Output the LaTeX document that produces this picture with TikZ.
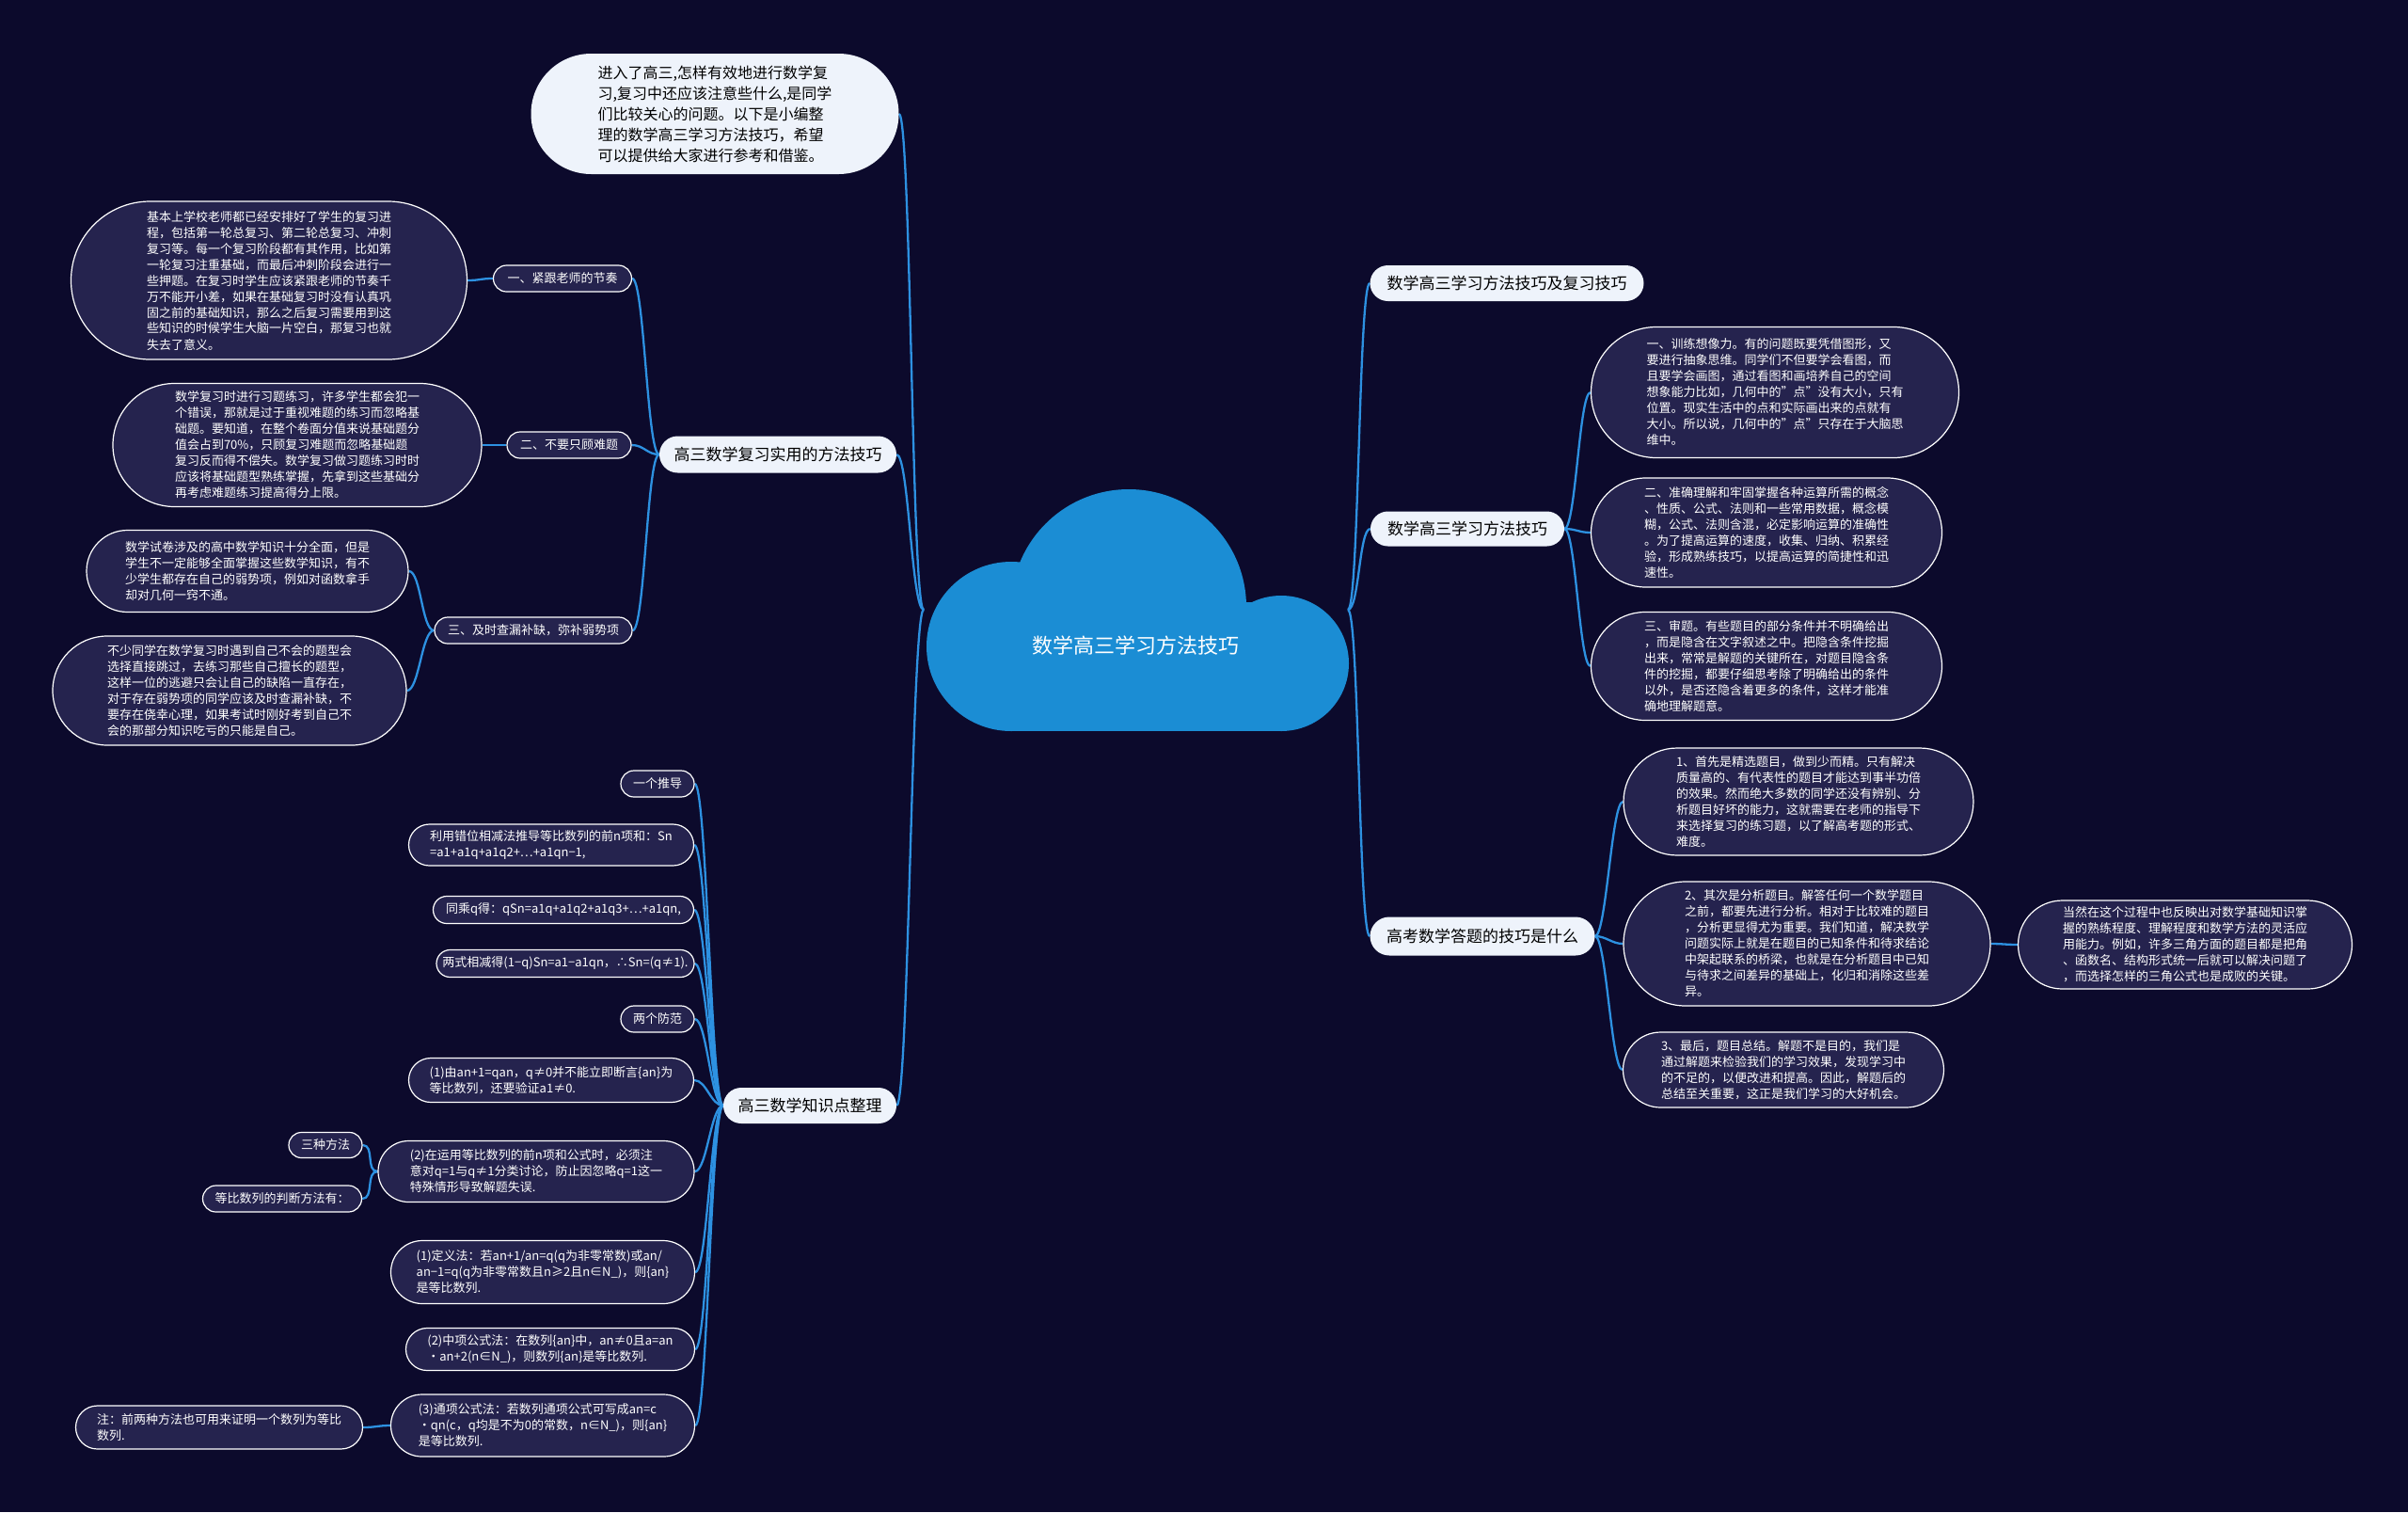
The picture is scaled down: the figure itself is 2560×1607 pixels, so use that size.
\documentclass[tikz,border=0pt]{standalone}
\usepackage{fontspec}
\setmainfont{Noto Sans CJK SC}
\usetikzlibrary{shapes.misc}
\definecolor{bgc}{RGB}{12,10,44}
\definecolor{detc}{RGB}{37,35,78}
\definecolor{topc}{RGB}{238,243,251}
\definecolor{linec}{RGB}{45,145,225}
\definecolor{cloudc}{RGB}{27,141,212}
\newcommand\fdet{\fontsize{13}{17}\selectfont}
\newcommand\ftop{\fontsize{17}{22}\selectfont}
\newcommand\fintro{\fontsize{16}{22}\selectfont}
\newcommand\fcloud{\fontsize{22}{26}\selectfont}
\pgfdeclarelayer{bg}
\pgfsetlayers{bg,main}
\tikzset{
  topnode/.style={rounded rectangle, fill=topc, text=black, font=\ftop, inner xsep=2pt, inner ysep=2pt, align=center},
  subnode/.style={rounded rectangle, fill=detc, draw=white, line width=1.2pt, text=white, font=\fdet, inner xsep=2pt, inner ysep=2pt, align=left},
  conn/.style={draw=linec, line width=2.3pt},
  lcon/.style={out=180, in=0, distance=13pt},
  rcon/.style={out=0, in=180, distance=12pt},
}
\begin{document}
\begin{tikzpicture}[x=1pt, y=-1pt]
\begin{pgfonlayer}{bg}
\fill[bgc] (0,0) rectangle (2560,1607);
\end{pgfonlayer}
\useasboundingbox (0,0) rectangle (2560,1607);

% cloud
\fill[cloudc] (1200,645) circle (125);
\fill[cloudc] (1075,687) circle (90);
\fill[cloudc] (1362,705) circle (72);
\fill[cloudc] (1075,640) rectangle (1362,777);
\node[text=white, font=\fcloud] (cloud) at (1207,686) {数学高三学习方法技巧};
\coordinate (cl) at (982,648);
\coordinate (cr) at (1433,648);

% left top
\node[topnode, font=\fintro, align=left, minimum width=395pt, minimum height=128pt] (intro) at (760,121) {进入了高三,怎样有效地进行数学复\\习,复习中还应该注意些什么,是同学\\们比较关心的问题。以下是小编整\\理的数学高三学习方法技巧，希望\\可以提供给大家进行参考和借鉴。};

\node[topnode, minimum width=256pt, minimum height=39pt] (A) at (827,483) {高三数学复习实用的方法技巧};
\node[subnode, minimum width=151pt, minimum height=28pt] (A1) at (598,296) {一、紧跟老师的节奏};
\node[subnode, minimum width=425pt, minimum height=168pt] (A1d) at (286,298) {基本上学校老师都已经安排好了学生的复习进\\程，包括第一轮总复习、第二轮总复习、冲刺\\复习等。每一个复习阶段都有其作用，比如第\\一轮复习注重基础，而最后冲刺阶段会进行一\\些押题。在复习时学生应该紧跟老师的节奏千\\万不能开小差，如果在基础复习时没有认真巩\\固之前的基础知识，那么之后复习需要用到这\\些知识的时候学生大脑一片空白，那复习也就\\失去了意义。};
\node[subnode, minimum width=136pt, minimum height=28pt] (A2) at (605,473) {二、不要只顾难题};
\node[subnode, minimum width=396pt, minimum height=131pt] (A2d) at (316,473) {数学复习时进行习题练习，许多学生都会犯一\\个错误，那就是过于重视难题的练习而忽略基\\础题。要知道，在整个卷面分值来说基础题分\\值会占到70\%，只顾复习难题而忽略基础题\\复习反而得不偿失。数学复习做习题练习时时\\应该将基础题型熟练掌握，先拿到这些基础分\\再考虑难题练习提高得分上限。};
\node[subnode, minimum width=214pt, minimum height=28pt] (A3) at (567,670) {三、及时查漏补缺，弥补弱势项};
\node[subnode, minimum width=346pt, minimum height=87pt] (A3a) at (263,607) {数学试卷涉及的高中数学知识十分全面，但是\\学生不一定能够全面掌握这些数学知识，有不\\少学生都存在自己的弱势项，例如对函数拿手\\却对几何一窍不通。};
\node[subnode, minimum width=380pt, minimum height=116pt] (A3b) at (244,734) {不少同学在数学复习时遇到自己不会的题型会\\选择直接跳过，去练习那些自己擅长的题型，\\这样一位的逃避只会让自己的缺陷一直存在，\\对于存在弱势项的同学应该及时查漏补缺，不\\要存在侥幸心理，如果考试时刚好考到自己不\\会的那部分知识吃亏的只能是自己。};

% left bottom
\node[topnode, minimum width=188pt, minimum height=38pt] (B) at (861,1175) {高三数学知识点整理};
\node[subnode, minimum width=82pt, minimum height=28pt] (B1) at (699,833) {一个推导};
\node[subnode, minimum width=307pt, minimum height=44pt] (B2) at (586,898) {利用错位相减法推导等比数列的前n项和：Sn\\=a1+a1q+a1q2+…+a1qn−1,};
\node[subnode, minimum width=281pt, minimum height=29pt] (B3) at (599,967) {同乘q得：qSn=a1q+a1q2+a1q3+…+a1qn,};
\node[subnode, minimum width=278pt, minimum height=29pt] (B4) at (601,1024) {两式相减得(1−q)Sn=a1−a1qn，∴Sn=(q≠1).};
\node[subnode, minimum width=82pt, minimum height=28pt] (B5) at (699,1083) {两个防范};
\node[subnode, minimum width=307pt, minimum height=47pt] (B6) at (586,1148) {(1)由an+1=qan，q≠0并不能立即断言\{an\}为\\等比数列，还要验证a1≠0.};
\node[subnode, minimum width=340pt, minimum height=65pt] (B7) at (570,1245) {(2)在运用等比数列的前n项和公式时，必须注\\意对q=1与q≠1分类讨论，防止因忽略q=1这一\\特殊情形导致解题失误.};
\node[subnode, minimum width=82pt, minimum height=27pt] (B7a) at (346,1217) {三种方法};
\node[subnode, minimum width=173pt, minimum height=28pt] (B7b) at (300,1274) {等比数列的判断方法有：};
\node[subnode, minimum width=327pt, minimum height=67pt] (B8) at (577,1352) {(1)定义法：若an+1/an=q(q为非零常数)或an/\\an−1=q(q为非零常数且n≥2且n∈N\_)，则\{an\}\\是等比数列.};
\node[subnode, minimum width=311pt, minimum height=45pt] (B9) at (585,1434) {(2)中项公式法：在数列\{an\}中，an≠0且a=an\\·an+2(n∈N\_)，则数列\{an\}是等比数列.};
\node[subnode, minimum width=327pt, minimum height=66pt] (B10) at (577,1515) {(3)通项公式法：若数列通项公式可写成an=c\\·qn(c，q均是不为0的常数，n∈N\_)，则\{an\}\\是等比数列.};
\node[subnode, minimum width=309pt, minimum height=46pt] (B10a) at (233,1517) {注：前两种方法也可用来证明一个数列为等比\\数列.};

% right
\node[topnode, minimum width=295pt, minimum height=38pt] (R1) at (1602,301) {数学高三学习方法技巧及复习技巧};
\node[topnode, minimum width=210pt, minimum height=37pt] (R2) at (1560,562) {数学高三学习方法技巧};
\node[subnode, minimum width=395pt, minimum height=139pt] (R2a) at (1887,417) {一、训练想像力。有的问题既要凭借图形，又\\要进行抽象思维。同学们不但要学会看图，而\\且要学会画图，通过看图和画培养自己的空间\\想象能力比如，几何中的"点"没有大小，只有\\位置。现实生活中的点和实际画出来的点就有\\大小。所以说，几何中的"点"只存在于大脑思\\维中。};
\node[subnode, minimum width=377pt, minimum height=116pt] (R2b) at (1878,566) {二、准确理解和牢固掌握各种运算所需的概念\\、性质、公式、法则和一些常用数据，概念模\\糊，公式、法则含混，必定影响运算的准确性\\。为了提高运算的速度，收集、归纳、积累经\\验，形成熟练技巧，以提高运算的简捷性和迅\\速性。};
\node[subnode, minimum width=377pt, minimum height=115pt] (R2c) at (1878,708) {三、审题。有些题目的部分条件并不明确给出\\，而是隐含在文字叙述之中。把隐含条件挖掘\\出来，常常是解题的关键所在，对题目隐含条\\件的挖掘，都要仔细思考除了明确给出的条件\\以外，是否还隐含着更多的条件，这样才能准\\确地理解题意。};
\node[topnode, minimum width=243pt, minimum height=41pt] (R3) at (1576,995) {高考数学答题的技巧是什么};
\node[subnode, minimum width=376pt, minimum height=114pt] (R3a) at (1912,852) {1、首先是精选题目，做到少而精。只有解决\\质量高的、有代表性的题目才能达到事半功倍\\的效果。然而绝大多数的同学还没有辨别、分\\析题目好坏的能力，这就需要在老师的指导下\\来选择复习的练习题，以了解高考题的形式、\\难度。};
\node[subnode, minimum width=394pt, minimum height=132pt] (R3b) at (1921,1003) {2、其次是分析题目。解答任何一个数学题目\\之前，都要先进行分析。相对于比较难的题目\\，分析更显得尤为重要。我们知道，解决数学\\问题实际上就是在题目的已知条件和待求结论\\中架起联系的桥梁，也就是在分析题目中已知\\与待求之间差异的基础上，化归和消除这些差\\异。};
\node[subnode, minimum width=359pt, minimum height=94pt] (R3d) at (2323,1004) {当然在这个过程中也反映出对数学基础知识掌\\握的熟练程度、理解程度和数学方法的灵活应\\用能力。例如，许多三角方面的题目都是把角\\、函数名、结构形式统一后就可以解决问题了\\，而选择怎样的三角公式也是成败的关键。};
\node[subnode, minimum width=345pt, minimum height=80pt] (R3c) at (1896,1137) {3、最后，题目总结。解题不是目的，我们是\\通过解题来检验我们的学习效果，发现学习中\\的不足的，以便改进和提高。因此，解题后的\\总结至关重要，这正是我们学习的大好机会。};

\begin{pgfonlayer}{bg}
\draw[conn] (cl) to[lcon] (intro.east);
\draw[conn] (cl) to[lcon] (A.east);
\draw[conn] (cl) to[lcon] (B.east);
\draw[conn] (cr) to[rcon] (R1.west);
\draw[conn] (cr) to[rcon] (R2.west);
\draw[conn] (cr) to[rcon] (R3.west);
\foreach \c in {A1,A2,A3} \draw[conn] (A.west) to[lcon] (\c.east);
\draw[conn] (A1.west) to[lcon] (A1d.east);
\draw[conn] (A2.west) to[lcon] (A2d.east);
\draw[conn] (A3.west) to[lcon] (A3a.east);
\draw[conn] (A3.west) to[lcon] (A3b.east);
\foreach \c in {B1,B2,B3,B4,B5,B6,B7,B8,B9,B10} \draw[conn] (B.west) to[lcon] (\c.east);
\draw[conn] (B7.west) to[lcon] (B7a.east);
\draw[conn] (B7.west) to[lcon] (B7b.east);
\draw[conn] (B10.west) to[lcon] (B10a.east);
\foreach \c in {R2a,R2b,R2c} \draw[conn] (R2.east) to[rcon] (\c.west);
\foreach \c in {R3a,R3b,R3c} \draw[conn] (R3.east) to[rcon] (\c.west);
\draw[conn] (R3b.east) to[rcon] (R3d.west);
\end{pgfonlayer}
\end{tikzpicture}
\end{document}
